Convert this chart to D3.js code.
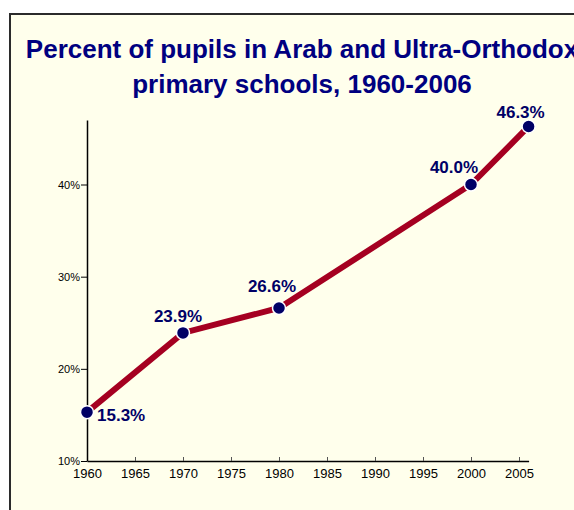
<!DOCTYPE html>
<html>
<head>
<meta charset="utf-8">
<script src="https://cdn.jsdelivr.net/npm/d3@7"></script>
<style>
  body { margin: 0; background: #fff; }
  svg { display: block; font-family: Arial, "Liberation Sans", sans-serif; }
</style>
</head>
<body>
<div class="canvas"></div>
<script>
// data
const years = [1960, 1970, 1980, 2000, 2006];
const values = [15.3, 23.9, 26.6, 40.0, 46.3];
const yTicks = [10, 20, 30, 40];
const xTicks = [1960, 1965, 1970, 1975, 1980, 1985, 1990, 1995, 2000, 2005];
const titleLines = ['Percent of pupils in Arab and Ultra-Orthodox', 'primary schools, 1960-2006'];

// label nudges (px) relative to each point, as placed in the original
const labelDx = [10, -5, -7, -17, -8];
const labelDy = [9, -11, -16, -12, -8];

const data = years.map((y, i) => ({ year: y, value: values[i] }));

let width = 574, height = 510;
const svg = d3.select('.canvas')
    .append('svg')
    .attr('width', width)
    .attr('height', height)
    ;

// frame, runs off the right and bottom edges like the original
svg.append('rect')
    .attr('x', 10)
    .attr('y', 14)
    .attr('width', 600)
    .attr('height', 540)
    .attr('fill', '#ffffec')
    .attr('stroke', '#2b2b2b')
    .attr('stroke-width', 2)
    ;

svg.selectAll('text.title')
    .data(titleLines)
    .enter()
    .append('text')
    .attr('class', 'title')
    .attr('x', 302)
    .attr('y', (d, i) => 58 + i * 35)
    .attr('text-anchor', 'middle')
    .attr('fill', '#000080')
    .attr('font-size', 26)
    .attr('font-weight', 'bold')
    .text(d => d);

const xScale = d3.scaleLinear()
    .domain([1960, 2006])
    .range([87, 528.6])
    ;

const yScale = d3.scaleLinear()
    .domain([10, 47])
    .range([461, 120])
    ;

const xAxis = d3.axisBottom(xScale)
    .tickValues(xTicks)
    .tickFormat(d3.format('d'))
    .tickSizeInner(-4)
    .tickSizeOuter(0)
    .tickPadding(8);

const yAxis = d3.axisLeft(yScale)
    .tickValues(yTicks)
    .tickFormat(d => d + '%')
    .tickSizeInner(6)
    .tickSizeOuter(0)
    .tickPadding(1);

svg.append('g')
    .attr('transform', `translate(0, ${yScale(10)})`)
    .attr('id', 'x-axis')
    .call(xAxis)
    .call(g => g.select('.domain').attr('stroke', '#000').attr('stroke-width', 1.5))
    .call(g => g.selectAll('.tick line').attr('stroke', '#555'))
    .call(g => g.selectAll('.tick text')
        .attr('font-size', 13)
        .attr('font-family', 'Arial, "Liberation Sans", sans-serif')
        .attr('fill', '#000'))
    ;

svg.append('g')
    .attr('transform', `translate(${xScale(1960)},0)`)
    .attr('id', 'y-axis')
    .call(yAxis)
    .call(g => g.select('.domain').attr('stroke', '#000').attr('stroke-width', 1.5))
    .call(g => g.selectAll('.tick line').attr('stroke', '#000'))
    .call(g => g.selectAll('.tick text')
        .attr('font-size', 11)
        .attr('font-family', 'Arial, "Liberation Sans", sans-serif')
        .attr('fill', '#000'))
    ;

const line = d3.line()
    .x(d => xScale(d.year))
    .y(d => yScale(d.value));

svg.append('path')
    .datum(data)
    .attr('d', line)
    .attr('fill', 'none')
    .attr('stroke', '#a50021')
    .attr('stroke-width', 6)
    ;

svg.selectAll('circle.pt')
    .data(data)
    .enter()
    .append('circle')
    .attr('class', 'pt')
    .attr('cx', d => xScale(d.year))
    .attr('cy', d => yScale(d.value))
    .attr('r', 6.5)
    .attr('fill', '#000066')
    .attr('stroke', '#fff')
    .attr('stroke-width', 1.5)
    ;

// first label sits to the right, the rest above the point
svg.selectAll('text.lbl')
    .data(data)
    .enter()
    .append('text')
    .attr('class', 'lbl')
    .attr('x', (d, i) => xScale(d.year) + labelDx[i])
    .attr('y', (d, i) => yScale(d.value) + labelDy[i])
    .attr('text-anchor', (d, i) => i === 0 ? 'start' : 'middle')
    .attr('fill', '#000066')
    .attr('font-size', 17)
    .attr('font-weight', 'bold')
    .text(d => d.value.toFixed(1) + '%')
    ;
</script>
</body>
</html>
